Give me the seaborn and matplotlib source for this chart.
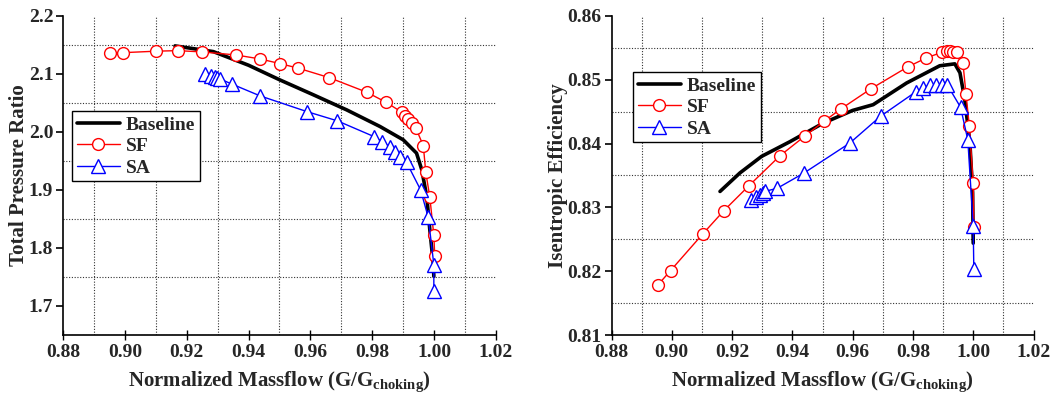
import numpy as np
import pandas as pd
import matplotlib
matplotlib.use("Agg")
import matplotlib.pyplot as plt
from matplotlib.ticker import MultipleLocator, FormatStrFormatter
import seaborn as sns

# ---------------- data ----------------
# Total pressure ratio (left)
base_pr_x = [0.9162, 0.9286, 0.9400, 0.9501, 0.9610, 0.9717, 0.9825, 0.9900, 0.9943, 0.9960, 0.9976, 0.9986, 0.9997, 0.9999]
base_pr_y = [2.1478, 2.1380, 2.1145, 2.0893, 2.0635, 2.0377, 2.0090, 1.9861, 1.9632, 1.9345, 1.8886, 1.8313, 1.7741, 1.7510]

sf_pr_x = [0.8952, 0.8995, 0.9100, 0.9171, 0.9251, 0.9358, 0.9437, 0.9502, 0.9561, 0.9660, 0.9782,
           0.9844, 0.9895, 0.9906, 0.9916, 0.9927, 0.9941, 0.9965, 0.9973, 0.9986, 0.9999, 1.0002]
sf_pr_y = [2.1352, 2.1362, 2.1387, 2.1397, 2.1374, 2.1323, 2.1254, 2.1173, 2.1094, 2.0933, 2.0681,
           2.0509, 2.0338, 2.0279, 2.0222, 2.0148, 2.0062, 1.9758, 1.9299, 1.8876, 1.8215, 1.7854]

sa_pr_x = [0.9259, 0.9277, 0.9291, 0.9299, 0.9307, 0.9347, 0.9437, 0.9588, 0.9687, 0.9805,
           0.9832, 0.9857, 0.9873, 0.9889, 0.9911, 0.9956, 0.9981, 0.9999, 0.9999]
sa_pr_y = [2.0996, 2.0967, 2.0939, 2.0922, 2.0910, 2.0819, 2.0618, 2.0348, 2.0188, 1.9918,
           1.9832, 1.9736, 1.9650, 1.9564, 1.9471, 1.9001, 1.8525, 1.7711, 1.7252]

# Isentropic efficiency (right)
base_eff_x = [0.9160, 0.9226, 0.9298, 0.9392, 0.9502, 0.9600, 0.9668, 0.9779, 0.9889, 0.9939, 0.9956, 0.9972, 0.9989, 0.9998, 1.0000]
base_eff_y = [0.8325, 0.8354, 0.8380, 0.8403, 0.8432, 0.8452, 0.8461, 0.8495, 0.8522, 0.8525, 0.8511, 0.8469, 0.8401, 0.8323, 0.8244]

sf_eff_x = [0.8955, 0.8996, 0.9102, 0.9173, 0.9256, 0.9359, 0.9442, 0.9505, 0.9563, 0.9661, 0.9782,
            0.9843, 0.9895, 0.9912, 0.9923, 0.9934, 0.9945, 0.9966, 0.9976, 0.9987, 1.0000, 1.0002]
sf_eff_y = [0.8179, 0.8201, 0.8258, 0.8295, 0.8334, 0.8381, 0.8412, 0.8435, 0.8455, 0.8486, 0.8520,
            0.8534, 0.8543, 0.8545, 0.8545, 0.8544, 0.8543, 0.8526, 0.8478, 0.8428, 0.8339, 0.8270]

sa_eff_x = [0.9262, 0.9281, 0.9292, 0.9301, 0.9308, 0.9350, 0.9439, 0.9591, 0.9693, 0.9809,
            0.9834, 0.9856, 0.9876, 0.9895, 0.9914, 0.9958, 0.9982, 1.0000, 1.0002]
sa_eff_y = [0.8312, 0.8317, 0.8320, 0.8323, 0.8325, 0.8330, 0.8354, 0.8401, 0.8443, 0.8481,
            0.8487, 0.8492, 0.8492, 0.8492, 0.8492, 0.8457, 0.8406, 0.8271, 0.8203]

x_label = r"Normalized Massflow (G/G$_{\mathbf{choking}}$)"
y_labels = ["Total Pressure Ratio", "Isentropic Efficiency"]
series_names = ["Baseline", "SF", "SA"]

# ---------------- style ----------------
sns.set_theme(style="white")
plt.rcParams["font.family"] = ["Liberation Serif", "DejaVu Serif"]
plt.rcParams["font.weight"] = "bold"
plt.rcParams["mathtext.fontset"] = "custom"
plt.rcParams["mathtext.rm"] = "Liberation Serif:bold"
plt.rcParams["mathtext.bf"] = "Liberation Serif:bold"
plt.rcParams["mathtext.it"] = "Liberation Serif:bold"

fig = plt.figure(figsize=(10.52, 4.01), dpi=100)
W, H = 1052, 401
axL = fig.add_axes([63 / W, 1 - 335 / H, (496 - 63) / W, (335 - 15.6) / H])
axR = fig.add_axes([611.5 / W, 1 - 335 / H, (1033.5 - 611.5) / W, (335 - 16) / H])


def draw(ax, bx, by, fx, fy, ax_, ay_):
    sns.lineplot(x=bx, y=by, ax=ax, sort=False, estimator=None, color="black",
                 linewidth=2.6, label=series_names[0])
    sns.lineplot(x=fx, y=fy, ax=ax, sort=False, estimator=None, color="#ff0000",
                 linewidth=1.0, marker="o", markersize=8.5, markerfacecolor="white",
                 markeredgecolor="#ff0000", markeredgewidth=1.0, label=series_names[1])
    sns.lineplot(x=ax_, y=ay_, ax=ax, sort=False, estimator=None, color="#0000ff",
                 linewidth=1.0, marker="^", markersize=9.5, markerfacecolor="white",
                 markeredgecolor="#0000ff", markeredgewidth=1.0, label=series_names[2])


draw(axL, base_pr_x, base_pr_y, sf_pr_x, sf_pr_y, sa_pr_x, sa_pr_y)
draw(axR, base_eff_x, base_eff_y, sf_eff_x, sf_eff_y, sa_eff_x, sa_eff_y)

axL.set_xlim(0.88, 1.02)
axL.set_ylim(1.65, 2.2)
axL.yaxis.set_major_locator(MultipleLocator(0.1))
axL.yaxis.set_minor_locator(MultipleLocator(0.05))
axL.yaxis.set_major_formatter(FormatStrFormatter("%.1f"))

axR.set_xlim(0.88, 1.02)
axR.set_ylim(0.81, 0.86)
axR.yaxis.set_major_locator(MultipleLocator(0.01))
axR.yaxis.set_minor_locator(MultipleLocator(0.005))
axR.yaxis.set_major_formatter(FormatStrFormatter("%.2f"))

for ax, yl, lx, ly, lp in [(axL, y_labels[0], 0.021, 0.701, 0), (axR, y_labels[1], 0.051, 0.824, 0)]:
    ax.xaxis.set_major_locator(MultipleLocator(0.02))
    ax.xaxis.set_minor_locator(MultipleLocator(0.01))
    ax.xaxis.set_major_formatter(FormatStrFormatter("%.2f"))
    for s in ["top", "right"]:
        ax.spines[s].set_visible(False)
    for s in ["left", "bottom"]:
        ax.spines[s].set_color("black")
        ax.spines[s].set_linewidth(1.2)
    ax.tick_params(axis="y", which="major", direction="out", length=5, width=1.2,
                   color="black", labelsize=14, left=True, pad=2)
    ax.tick_params(axis="x", which="major", direction="inout", length=7, width=1.0,
                   color="black", labelsize=14, bottom=True, pad=3)
    ax.tick_params(which="minor", length=0)
    for lab in ax.get_xticklabels() + ax.get_yticklabels():
        lab.set_fontweight("bold")
    ax.grid(False)
    ax.grid(True, which="minor", linestyle=(0, (1, 1.5)), color="#333333", linewidth=0.8)
    ax.set_axisbelow(True)
    ax.set_xlabel(x_label, fontsize=15, fontweight="bold", labelpad=6)
    ax.set_ylabel(yl, fontsize=15, fontweight="bold", labelpad=lp)
    leg = ax.legend(loc="upper left", bbox_to_anchor=(lx, ly), borderaxespad=0,
                    frameon=True, fancybox=False, edgecolor="black",
                    prop={"family": "Liberation Serif", "weight": "bold", "size": 14},
                    handlelength=2.2, handletextpad=0.3, labelspacing=0.2,
                    borderpad=0.25)
    leg.get_frame().set_linewidth(1.0)
    leg.get_frame().set_alpha(1.0)

fig.savefig("out.png", dpi=100)
